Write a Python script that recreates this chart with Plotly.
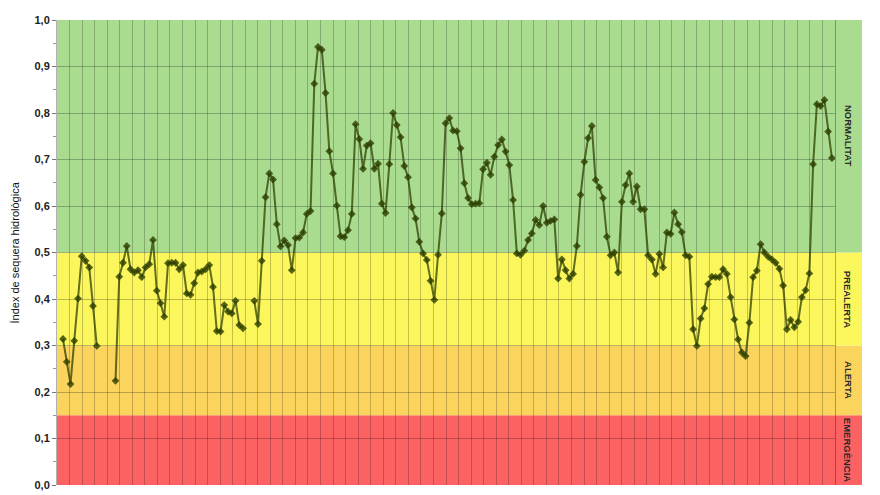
import plotly.graph_objects as go

# ---- data (monthly drought index; None = no data) ----
tram_1 = [0.314, 0.265, 0.217, 0.310, 0.401, 0.492, 0.482, 0.468, 0.385, 0.299,
          None, None, None, None]
tram_2 = [0.224, 0.448, 0.478, 0.514, 0.464, 0.457, 0.462, 0.447, 0.468, 0.475,
          0.527, 0.418, 0.391, 0.362, 0.477, 0.478, 0.478, 0.464, 0.473, 0.412,
          0.409, 0.434, 0.457, 0.459, 0.464, 0.473, 0.426, 0.331, 0.330, 0.387,
          0.373, 0.369, 0.396, 0.344, 0.337, None, None]
tram_3 = [0.396, 0.346, 0.482, 0.619, 0.670, 0.657, 0.561, 0.513, 0.526, 0.516,
          0.462, 0.531, 0.532, 0.543, 0.583, 0.589, 0.863, 0.942, 0.936, 0.843,
          0.718, 0.670, 0.601, 0.535, 0.533, 0.548, 0.583, 0.776, 0.744, 0.680,
          0.730, 0.735, 0.680, 0.691, 0.605, 0.585, 0.690, 0.800, 0.774]
tram_4 = [0.748, 0.686, 0.662, 0.597, 0.573, 0.523, 0.498, 0.484, 0.439, 0.398,
          0.495, 0.584, 0.778, 0.789, 0.762, 0.761, 0.724, 0.649, 0.617, 0.604,
          0.605, 0.606, 0.679, 0.693, 0.667, 0.706, 0.731, 0.743, 0.717, 0.688,
          0.613, 0.498, 0.495, 0.504, 0.527, 0.541, 0.570, 0.559, 0.600]
tram_5 = [0.564, 0.568, 0.571, 0.444, 0.485, 0.462, 0.444, 0.454, 0.514, 0.624,
          0.695, 0.746, 0.772, 0.656, 0.640, 0.617, 0.534, 0.494, 0.500, 0.457,
          0.609, 0.645, 0.670, 0.609, 0.642, 0.593, 0.593, 0.494, 0.485, 0.454,
          0.497, 0.468, 0.543, 0.540, 0.586, 0.561, 0.544, 0.494]
tram_6 = [0.491, 0.335, 0.299, 0.358, 0.380, 0.432, 0.448, 0.447, 0.447, 0.464,
          0.454, 0.404, 0.356, 0.313, 0.285, 0.277, 0.349, 0.447, 0.461, 0.518,
          0.500, 0.491, 0.485, 0.478, 0.465, 0.429, 0.335, 0.355, 0.339, 0.351,
          0.404, 0.419, 0.455, 0.690, 0.819, 0.815, 0.828, 0.760, 0.703]

index_sequera = tram_1 + tram_2 + tram_3 + tram_4 + tram_5 + tram_6
mesos = list(range(len(index_sequera)))

# state bands (lower, upper, colour, label)
llindars = [0.0, 0.15, 0.30, 0.50, 1.0]
estats = ["EMERGÈNCIA", "ALERTA", "PREALERTA", "NORMALITAT"]
colors_estat = ["#fd6262", "#fbd45e", "#fbf65c", "#a9dc8f"]

y_ticks = [round(k * 0.1, 1) for k in range(11)]
y_ticktext = [f"{v:.1f}".replace(".", ",") for v in y_ticks]

# ---- figure ----
fig = go.Figure()
fig.add_trace(go.Scatter(
    x=mesos, y=index_sequera, mode="lines+markers",
    connectgaps=False,
    line=dict(color="rgba(45,62,0,0.74)", width=2),
    marker=dict(symbol="diamond", size=6, color="rgba(45,62,0,0.8)"),
    showlegend=False, hoverinfo="x+y",
))

shapes = []
for lo, hi, col in zip(llindars[:-1], llindars[1:], colors_estat):
    shapes.append(dict(type="rect", xref="paper", yref="y", x0=0, x1=1,
                       y0=lo, y1=hi, fillcolor=col, line=dict(width=0),
                       layer="below"))
# outer frame of the original sheet
for xp in (-0.067, 1.0225):
    shapes.append(dict(type="line", xref="paper", yref="paper", x0=xp, x1=xp,
                       y0=-0.05, y1=1.1, line=dict(color="#8a8a8a", width=1.5)))

annotations = []
for lo, hi, lab in zip(llindars[:-1], llindars[1:], estats):
    annotations.append(dict(x=0.983, xref="paper", y=(lo + hi) / 2, yref="y",
                            xanchor="center", yanchor="middle",
                            text=lab, textangle=90, showarrow=False,
                            font=dict(family="Liberation Sans", size=9.5,
                                      color="#2a2a2a", weight="bold")))
annotations.append(dict(x=-0.0534, xref="paper", y=0.5, yref="paper",
                        xanchor="center", yanchor="middle",
                        text="Índex de sequera hidrològica", textangle=-90,
                        showarrow=False,
                        font=dict(family="Liberation Sans", size=11,
                                  color="#111")))

fig.update_layout(
    width=864, height=487,
    margin=dict(l=49, r=10, t=12, b=10, autoexpand=False),
    paper_bgcolor="white", plot_bgcolor="rgba(0,0,0,0)",
    shapes=shapes, annotations=annotations,
    xaxis=dict(domain=[0, 0.9665], range=[-1.6, 205.84], automargin=False,
               tick0=-1.6, dtick=3.3458, showgrid=True,
               gridcolor="rgba(0,0,0,0.22)", gridwidth=1,
               showticklabels=False, zeroline=False, ticks=""),
    yaxis=dict(range=[0, 1], tickvals=y_ticks, ticktext=y_ticktext,
               automargin=False,
               showgrid=True, gridcolor="rgba(0,0,0,0.25)", gridwidth=1,
               zeroline=False, ticks="outside", ticklen=4,
               tickcolor="#777", ticklabeloverflow="allow",
               minor=dict(dtick=0.05, ticks="outside", ticklen=3,
                          tickcolor="#999", showgrid=False),
               showline=True, mirror=True, linecolor="rgba(0,0,0,0.3)",
               tickfont=dict(family="Liberation Sans", size=11,
                             color="#222", weight="bold")),
)

fig.write_html("out.html")
